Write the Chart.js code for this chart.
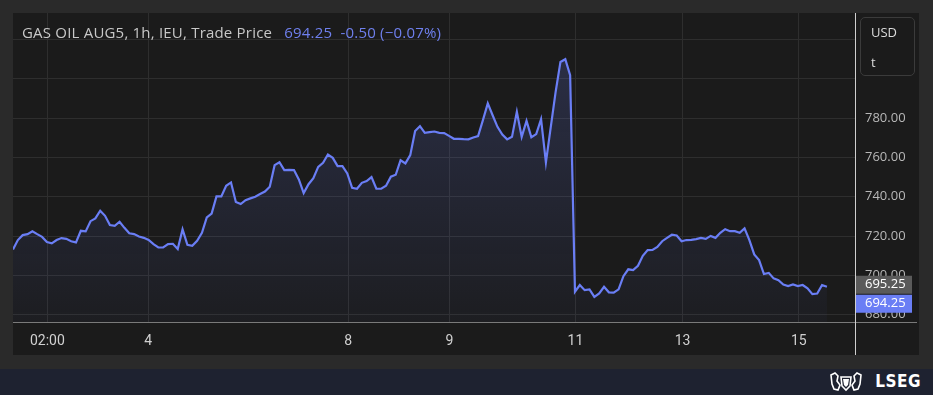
<!DOCTYPE html>
<html>
<head>
<meta charset="utf-8">
<script src="https://cdn.jsdelivr.net/npm/chart.js@4.4.0/dist/chart.umd.min.js"></script>
<style>
  html, body { margin: 0; padding: 0; }
  body { width: 933px; height: 395px; background: #2a2a2a; position: relative; overflow: hidden; font-family: "Open Sans", "Noto Sans", sans-serif; }
  #panel { position: absolute; left: 13px; top: 13px; width: 906px; height: 342px; background: #1b1b1b; }
  #chart { position: absolute; left: 13px; top: 13px; }
  #title { position: absolute; left: 22px; top: 22px; font-size: 15px; letter-spacing: 0.2px; color: #c8c8c8; white-space: pre; z-index: 2; }
  #title .val { color: #6f80ee; margin-left: 8px; }
  #unit { position: absolute; left: 860px; top: 17px; width: 55px; height: 59px; border: 1px solid #3b3b3b; border-radius: 5px; box-sizing: border-box; color: #dcdcdc; font-size: 13px; z-index: 2; }
  #unit div { position: absolute; left: 10px; }
  #footer { position: absolute; left: 0; top: 369px; width: 933px; height: 26px; background: #1e2230; }
  #crest { position: absolute; left: 829px; top: 3px; }
  #brand { position: absolute; right: 12px; top: 2px; color: #ffffff; font-family: "DejaVu Sans Condensed", "DejaVu Sans", sans-serif; font-weight: bold; font-size: 17px; letter-spacing: 0.5px; }
</style>
</head>
<body>
<div id="panel"></div>
<canvas id="chart" width="904" height="342"></canvas>
<div id="title">GAS OIL AUG5, 1h, IEU, Trade Price <span class="val">694.25  -0.50 (−0.07%)</span></div>
<div id="unit"><div style="top:5px">USD</div><div style="top:35px">t</div></div>
<div id="footer">
  <svg id="crest" width="34" height="20" viewBox="0 0 34 20">
    <g fill="none" stroke="#ffffff" stroke-width="1.6">
      <path d="M2 3 L6 1 L9 4 L8 9 L11 13 L9 18 L5 17 L3 12 Z"/>
      <path d="M32 3 L28 1 L25 4 L26 9 L23 13 L25 18 L29 17 L31 12 Z"/>
      <path d="M12 5 L22 5 L21 14 L17 18 L13 14 Z"/>
    </g>
    <path d="M14 7 L20 7 L19 13 L17 15 L15 13 Z" fill="#ffffff"/>
  </svg>
  <div id="brand">LSEG</div>
</div>

<script>
// hourly trade prices
const prices = [
    713.2, 718, 720.5, 721, 722.5, 721, 719.6, 717, 716.3, 718,
    719, 718.6, 717.4, 716.8, 722.7, 722.4, 727.6, 729, 732.9, 730.3,
    725.6, 725.2, 727.3, 724.2, 721.4, 721, 719.8, 719.1, 718, 715.9,
    714.2, 714.2, 715.9, 716.1, 713.4, 723.4, 715.6, 715.1, 717.6, 721.7,
    729.5, 731.5, 740.2, 740.2, 745.6, 747.3, 737.4, 736.3, 738.3, 739.2,
    740, 741.4, 742.7, 745.1, 756.1, 757.6, 753.6, 753.7, 753.6, 748.8,
    741.9, 746.4, 749.5, 755.2, 757.3, 761.5, 759.8, 755.6, 755.6, 751.9,
    744.6, 744.1, 747.1, 748, 750, 744.1, 744.1, 745.6, 750.2, 751.2,
    758.6, 757, 761.2, 773.5, 775.9, 772.5, 772.9, 773.2, 772.5, 772.4,
    771, 769.5, 769.5, 769.3,
    769.2, 770.2, 770.9, 779, 787.5, 781.5, 775.6, 771.7, 769.2, 770.5,
    783.2, 770.5, 778.6, 770.3, 771.9, 779.5, 757.5, 775.4, 793.2, 808.6,
    810, 801.9, 691.7, 695.1, 692.5, 692.9, 689.1, 690.8, 694.2, 691.4,
    691.2, 692.9, 699.6, 703.1, 702.7, 704.9, 710, 712.9, 713, 714.5,
    717.4, 719.1, 720.7, 720.3, 717.4, 718, 718.1, 718.5, 719.1, 718.6,
    720.1, 719.1, 721.7, 723.5, 722.5, 722.5, 721.7, 723.9, 718, 710.7,
    707.8, 700.7, 701.3, 698.5, 697.6, 695.4, 694.6, 695.4, 694.6, 695.1,
    693.4, 690.5, 690.8, 695.1, 694.25
];

// time axis labels and where they fall (in bar index)
const tickLabels = ['02:00', '4', '8', '9', '11', '13', '15'];
const tickPos = [7.1, 27.9, 69.2, 90.1, 116.1, 138.2, 162.2];

const priceTicks = [680, 700, 720, 740, 760, 780, 800, 820];
const lastPrice = 694.25;
const refPrice = 695.25;

const lineColor = '#6a7ef5';
const gridColor = '#2e2e2e';

const points = prices.map((p, i) => ({ x: i, y: p }));

// axis lines + price tags on the right
const extras = {
    id: 'extras',
    afterDraw(c) {
        const ctx = c.ctx;
        const a = c.chartArea;
        const y = c.scales.y;
        ctx.save();
        ctx.strokeStyle = '#7a7a7a';
        ctx.lineWidth = 1;
        ctx.beginPath();
        ctx.moveTo(0, Math.round(a.bottom) + 0.5);
        ctx.lineTo(c.width, Math.round(a.bottom) + 0.5);
        ctx.stroke();
        ctx.strokeStyle = '#cfcfcf';
        ctx.beginPath();
        ctx.moveTo(Math.round(a.right) + 0.5, 0);
        ctx.lineTo(Math.round(a.right) + 0.5, c.height);
        ctx.stroke();

        const bx = a.right + 1, bw = 56, bh = 18;
        const gy = y.getPixelForValue(refPrice) - bh / 2;
        ctx.font = '13px "Open Sans", sans-serif';
        ctx.textBaseline = 'middle';
        ctx.textAlign = 'left';
        ctx.fillStyle = '#5a5a5a';
        ctx.fillRect(bx, gy, bw, bh);
        ctx.fillStyle = '#ffffff';
        ctx.fillText(refPrice.toFixed(2), bx + 9, gy + bh / 2);
        const by = gy + bh + 1;
        ctx.fillStyle = lineColor;
        ctx.fillRect(bx, by, bw, bh);
        ctx.fillStyle = '#ffffff';
        ctx.fillText(lastPrice.toFixed(2), bx + 9, by + bh / 2);
        ctx.restore();
    }
};

new Chart(document.getElementById('chart'), {
    type: 'line',
    data: {
        datasets: [{
            data: points,
            borderColor: lineColor,
            borderWidth: 2.2,
            pointRadius: 0,
            tension: 0,
            fill: 'start',
            backgroundColor: (context) => {
                const area = context.chart.chartArea;
                if (!area) return 'rgba(106,126,245,0.1)';
                const g = context.chart.ctx.createLinearGradient(0, area.top, 0, area.bottom);
                g.addColorStop(0, 'rgba(106,126,245,0.22)');
                g.addColorStop(1, 'rgba(106,126,245,0.03)');
                return g;
            }
        }]
    },
    options: {
        responsive: false,
        animation: false,
        layout: { padding: 0 },
        plugins: {
            legend: { display: false },
            tooltip: { enabled: false }
        },
        scales: {
            x: {
                type: 'linear',
                min: 0,
                max: 173.8,
                afterFit: (s) => { s.height = 33; s.paddingLeft = 0; s.paddingRight = 0; },
                afterBuildTicks: (s) => { s.ticks = tickPos.map(v => ({ value: v })); },
                grid: { color: gridColor, drawTicks: false },
                border: { display: false },
                ticks: {
                    color: '#d0d0d0',
                    padding: 11,
                    maxRotation: 0,
                    autoSkip: false,
                    font: { family: '"Liberation Sans Narrow", "Roboto", sans-serif', size: 14 },
                    callback: (v, i) => tickLabels[i]
                }
            },
            y: {
                position: 'right',
                min: 676.3,
                max: 833.5,
                afterFit: (s) => { s.width = 62; s.paddingTop = 0; s.paddingBottom = 0; },
                afterBuildTicks: (s) => { s.ticks = priceTicks.map(v => ({ value: v })); },
                grid: { color: gridColor, drawTicks: false },
                border: { display: false },
                ticks: {
                    color: '#b8b8b8',
                    padding: 10,
                    font: { family: '"Open Sans", sans-serif', size: 13 },
                    callback: (v) => v <= 780 ? v.toFixed(2) : ''
                }
            }
        }
    },
    plugins: [extras]
});
</script>
</body>
</html>
